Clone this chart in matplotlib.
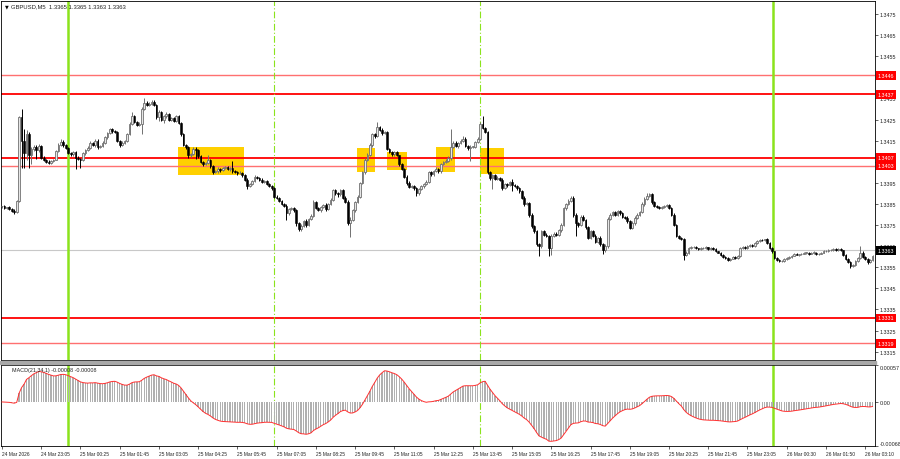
import numpy as np
import pandas as pd
import matplotlib
matplotlib.use("Agg")
import matplotlib.pyplot as plt
from matplotlib.patches import Rectangle
import matplotlib.transforms as mtransforms

plt.rcParams['font.family'] = ['Liberation Sans', 'DejaVu Sans']

# ------------------- DATA (M5 closes, points above 1.33000) ------------------- #
closes = [
    838, 832, 834, 826, 818, 812, 865, 1260, 1150, 1090, 1180, 1080, 1110, 1120, 1105, 1125, 1070, 1060, 1050, 1045,
    1055, 1060, 1100, 1130, 1145, 1130, 1115, 1090, 1085, 1095, 1070, 1065, 1060, 1090, 1105, 1115, 1140, 1130, 1150, 1120,
    1125, 1140, 1165, 1185, 1205, 1195, 1190, 1150, 1130, 1140, 1150, 1180, 1230, 1265, 1240, 1225, 1230, 1300, 1330, 1320,
    1325, 1335, 1320, 1260, 1285, 1250, 1265, 1275, 1250, 1255, 1245, 1265, 1235, 1180, 1130, 1118, 1080, 1085, 1110, 1105,
    1075, 1050, 1040, 1045, 1060, 1030, 1000, 1005, 1015, 1010, 1020, 1025, 1015, 1020, 1005, 1000, 995, 998, 985, 965,
    935, 945, 960, 980, 975, 965, 955, 960, 945, 935, 925, 885, 880, 865, 850, 840, 805, 825, 830, 820,
    760, 730, 745, 770, 750, 780, 795, 860, 830, 820, 835, 845, 825, 850, 870, 915, 900, 895, 915, 880,
    860, 760, 775, 820, 860, 885, 950, 1000, 1060, 1080, 1130, 1180, 1170, 1215, 1200, 1185, 1190, 1110, 1095, 1085,
    1095, 1080, 1040, 1015, 980, 950, 930, 935, 925, 900, 920, 935, 945, 955, 1000, 990, 1005, 1015, 1005, 1040,
    1050, 1055, 1070, 1120, 1140, 1125, 1140, 1150, 1160, 1125, 1115, 1120, 1120, 1145, 1160, 1230, 1210, 1190, 1000, 975,
    985, 970, 975, 965, 925, 945, 940, 955, 940, 935, 925, 910, 880, 850, 855, 800, 745, 720, 660, 650,
    720, 705, 700, 640, 700, 710, 705, 725, 750, 830, 850, 865, 880, 800, 760, 750, 790, 775, 740, 690,
    720, 700, 670, 690, 660, 630, 650, 780, 800, 810, 800, 815, 805, 790, 785, 770, 735, 760, 785, 800,
    810, 850, 875, 890, 895, 860, 840, 835, 830, 835, 840, 845, 830, 800, 750, 700, 690, 685, 610, 620,
    640, 645, 645, 640, 635, 640, 640, 645, 635, 640, 638, 625, 620, 610, 600, 595, 585, 590, 600, 595,
    605, 640, 645, 640, 650, 655, 650, 665, 675, 680, 678, 682, 665, 640, 625, 595, 585, 578, 580, 588,
    595, 600, 605, 615, 610, 612, 615, 618, 620, 615, 618, 620, 612, 615, 620, 625, 628, 630, 632, 635,
    630, 635, 630, 610, 590, 575, 555, 560, 580, 595, 620, 600, 590, 575, 585, 605,
]

# wick length above / below the body, points
upper_wick = [
    4, 6, 3, 5, 4, 6, 5, 5, 40, 55, 20, 10, 12, 8, 10, 8, 6, 5, 4, 6,
    5, 4, 6, 8, 15, 6, 5, 6, 4, 8, 6, 5, 4, 6, 5, 8, 6, 5, 10, 6,
    5, 6, 8, 6, 7, 5, 6, 4, 5, 6, 4, 8, 10, 20, 6, 5, 8, 10, 20, 8,
    6, 8, 6, 5, 8, 6, 5, 10, 6, 5, 6, 8, 6, 5, 8, 6, 5, 6, 8, 10,
    5, 6, 4, 6, 20, 5, 4, 6, 8, 5, 6, 4, 6, 5, 35, 4, 5, 6, 4, 5,
    6, 4, 5, 6, 4, 5, 6, 5, 4, 6, 5, 4, 6, 5, 4, 6, 8, 5, 6, 5,
    6, 5, 8, 6, 10, 5, 6, 8, 5, 6, 5, 6, 8, 5, 6, 8, 6, 5, 6, 5,
    6, 8, 15, 6, 5, 8, 6, 8, 6, 10, 8, 6, 8, 25, 6, 8, 5, 6, 5, 6,
    5, 6, 4, 5, 6, 5, 8, 6, 5, 6, 5, 6, 5, 8, 6, 5, 6, 8, 5, 6,
    5, 6, 8, 85, 6, 8, 5, 6, 10, 6, 5, 8, 6, 5, 8, 10, 37, 6, 5, 8,
    6, 5, 6, 5, 8, 6, 5, 6, 15, 6, 5, 6, 5, 8, 6, 5, 6, 5, 8, 6,
    6, 5, 6, 5, 8, 6, 5, 6, 8, 6, 5, 8, 10, 6, 5, 6, 8, 6, 5, 6,
    8, 5, 6, 5, 6, 5, 8, 10, 6, 5, 8, 6, 5, 6, 5, 6, 5, 8, 6, 5,
    6, 8, 10, 12, 6, 5, 6, 5, 6, 4, 5, 6, 5, 4, 5, 6, 4, 5, 4, 5,
    4, 5, 4, 5, 3, 4, 5, 4, 3, 4, 5, 4, 3, 4, 5, 4, 3, 4, 5, 4,
    5, 6, 4, 5, 4, 5, 4, 6, 5, 4, 5, 4, 5, 4, 5, 4, 3, 4, 5, 4,
    4, 5, 4, 5, 4, 3, 4, 5, 4, 3, 4, 5, 4, 3, 4, 5, 4, 5, 4, 5,
    4, 5, 4, 3, 4, 5, 4, 5, 4, 5, 30, 5, 4, 5, 4, 5,
]
lower_wick = [
    5, 4, 6, 5, 6, 8, 6, 5, 130, 70, 30, 60, 40, 8, 40, 10, 8, 6, 5, 6,
    6, 5, 4, 6, 5, 8, 6, 5, 6, 8, 55, 6, 40, 5, 6, 5, 4, 6, 8, 10,
    6, 5, 4, 6, 5, 8, 6, 5, 8, 6, 5, 6, 5, 6, 8, 6, 5, 50, 6, 5,
    6, 5, 8, 6, 15, 6, 15, 6, 5, 8, 6, 5, 8, 6, 5, 8, 10, 6, 5, 40,
    6, 5, 8, 6, 5, 8, 6, 5, 6, 8, 5, 6, 5, 8, 6, 5, 6, 5, 8, 6,
    15, 6, 5, 8, 6, 5, 6, 8, 5, 6, 8, 6, 5, 8, 6, 5, 30, 6, 5, 8,
    15, 10, 6, 5, 8, 6, 5, 8, 6, 5, 8, 6, 10, 5, 6, 8, 6, 10, 5, 8,
    6, 10, 65, 6, 8, 5, 6, 5, 8, 6, 5, 8, 6, 5, 6, 8, 5, 6, 5, 8,
    6, 5, 8, 6, 5, 8, 6, 5, 8, 10, 6, 5, 8, 6, 5, 6, 8, 5, 6, 8,
    6, 5, 8, 10, 6, 5, 8, 6, 5, 6, 8, 60, 6, 5, 6, 8, 6, 5, 8, 12,
    55, 6, 8, 6, 10, 6, 8, 5, 30, 6, 8, 6, 5, 8, 6, 10, 8, 6, 10, 45,
    8, 6, 5, 35, 30, 6, 5, 8, 6, 5, 8, 6, 5, 10, 60, 8, 6, 5, 8, 6,
    5, 8, 6, 5, 8, 15, 6, 8, 5, 6, 5, 8, 6, 5, 6, 8, 5, 6, 8, 5,
    6, 5, 8, 6, 5, 8, 6, 5, 6, 5, 4, 6, 5, 8, 6, 5, 4, 6, 25, 6,
    5, 4, 5, 4, 3, 4, 5, 3, 4, 5, 4, 3, 4, 5, 4, 6, 5, 4, 3, 4,
    4, 5, 4, 3, 4, 5, 4, 3, 4, 5, 4, 3, 6, 5, 6, 5, 4, 5, 4, 3,
    4, 5, 4, 3, 4, 5, 4, 3, 4, 5, 4, 3, 4, 5, 4, 3, 4, 5, 4, 3,
    4, 5, 4, 6, 5, 6, 8, 5, 6, 5, 6, 5, 6, 8, 5, 6,
]

time_labels = ["24 Mar 2026", "24 Mar 23:05", "25 Mar 00:25", "25 Mar 01:45", "25 Mar 03:05",
               "25 Mar 04:25", "25 Mar 05:45", "25 Mar 07:05", "25 Mar 08:25", "25 Mar 09:45",
               "25 Mar 11:05", "25 Mar 12:25", "25 Mar 13:45", "25 Mar 15:05", "25 Mar 16:25",
               "25 Mar 17:45", "25 Mar 19:05", "25 Mar 20:25", "25 Mar 21:45", "25 Mar 23:05",
               "26 Mar 00:30", "26 Mar 01:50", "26 Mar 03:10"]
label_bars = list(range(0, 353, 16))

# horizontal levels: (price, strong?)
levels = [(1.3446, False), (1.3437, True), (1.3407, True), (1.3403, False), (1.3331, True), (1.3319, False)]
current_price = 1.3363

# price scale labels (1.3445 sits under the 1.3446 level box)
scale_prices = [1.3475, 1.3465, 1.3455, 1.3435, 1.3425, 1.3415, 1.3405, 1.3395, 1.3385,
                1.3375, 1.3365, 1.3355, 1.3345, 1.3335, 1.3325, 1.3315]

# day / session separators (bar index)
separators = [27, 111, 195, 314.5]
separator_solid = [True, False, False, True]

# highlighted zones: (first bar, last bar, low, high)
zones = [(71.8, 98.7, 1.33988, 1.3412),
         (144.8, 152.1, 1.3400, 1.34116),
         (157.0, 165.2, 1.34011, 1.34097),
         (177.0, 184.7, 1.34002, 1.3412),
         (195.0, 204.7, 1.33993, 1.34116)]

# ------------------ BUILD OHLC ------------------- #
df = pd.DataFrame({'close': 1.33 + np.array(closes) / 1e5})
df['open'] = df['close'].shift(1).fillna(df['close'].iloc[0])
df['high'] = df[['open', 'close']].max(axis=1) + np.array(upper_wick) / 1e5
df['low'] = df[['open', 'close']].min(axis=1) - np.array(lower_wick) / 1e5
idx = np.arange(len(df))

# MACD(21,34,1)
ema_fast = df['close'].ewm(span=21, adjust=False).mean()
ema_slow = df['close'].ewm(span=34, adjust=False).mean()
df['macd'] = ema_fast - ema_slow
df['signal'] = df['macd'].rolling(1).mean()

# ------------------ LAYOUT ------------------- #
W, H = 900, 460
def px_rect(l, t, r, b):
    return [l / W, 1 - b / H, (r - l) / W, (b - t) / H]

fig = plt.figure(figsize=(9, 4.6), dpi=100)
ax1 = fig.add_axes(px_rect(1, 2, 875, 361))
ax2 = fig.add_axes(px_rect(1, 366, 875, 447))
fig.patches.append(Rectangle((0, 1 - 365 / H), 876 / W, 3 / H, transform=fig.transFigure,
                             color='#a8a8a8', zorder=0))

green = '#8be31c'
xlim = (-0.4, 356.0)

# ------------------ PRICE PANEL ------------------- #
for (x0, x1, lo, hi) in zones:
    ax1.add_patch(Rectangle((x0, lo), x1 - x0, hi - lo, color='#ffd000', zorder=1, lw=0))

for price, strong in levels:
    if strong:
        ax1.axhline(price, color='#ff0000', lw=1.3, zorder=2)
    else:
        ax1.axhline(price, color='#ff7070', lw=1.0, zorder=2)
ax1.axhline(current_price, color='#c8c8c8', lw=0.8, zorder=2)

for pos, solid in zip(separators, separator_solid):
    for ax in (ax1, ax2):
        if solid:
            ax.axvline(pos, color=green, lw=1.8, zorder=2)
        else:
            ax.axvline(pos, color=green, lw=0.8, ls=(0, (6, 2, 1, 2)), zorder=2)

bull = df['close'] >= df['open']
wick_col = np.where(bull, '#707070', '#000000')
ax1.vlines(idx, df['low'], df['high'], colors=wick_col, lw=0.7, zorder=3)
body = (df['close'] - df['open']).abs().clip(lower=0.000025)
bottoms = df[['open', 'close']].min(axis=1)
ax1.bar(idx[bull], body[bull], bottom=bottoms[bull], width=0.7,
        color='#e6e6e6', edgecolor='#707070', lw=0.6, zorder=4)
ax1.bar(idx[~bull], body[~bull], bottom=bottoms[~bull], width=0.7,
        color='black', edgecolor='black', lw=0.4, zorder=4)

ax1.set_xlim(*xlim)
ax1.set_ylim(1.331107, 1.348116)
ax1.set_xticks([])
ax1.yaxis.tick_right()
ax1.set_yticks(scale_prices)
ax1.set_yticklabels([f"{t:.4f}" for t in scale_prices])
ax1.tick_params(axis='y', length=2, width=0.5, pad=1.5, labelsize=3.9, colors='#222222')

# level labels on the price scale
trans = mtransforms.blended_transform_factory(ax1.transAxes, ax1.transData)
for price, strong in levels:
    ax1.text(1.003, price, f"{price:.4f}", transform=trans, fontsize=3.9, color='white',
             va='center', ha='left', zorder=10, clip_on=False,
             bbox=dict(boxstyle='square,pad=0.35', fc='#ff0000', ec='none'))
ax1.text(1.003, current_price, f"{current_price:.4f}", transform=trans, fontsize=3.9, color='white',
         va='center', ha='left', zorder=10, clip_on=False,
         bbox=dict(boxstyle='square,pad=0.35', fc='black', ec='none'))

for s in ax1.spines.values():
    s.set_linewidth(0.6)

fig.text(5 / W, 1 - 7 / H, "\u25bc", fontsize=3.5, va='center', ha='left', family='DejaVu Sans')
fig.text(11 / W, 1 - 7 / H, "GBPUSD,M5  1.3365 1.3365 1.3363 1.3363", fontsize=4.2,
         va='center', ha='left', color='#222222')

# ------------------ MACD PANEL ------------------- #
ax2.bar(idx, df['macd'], width=0.55, color='#b0b0b0', zorder=3)
ax2.plot(idx, df['signal'], color='#ff3030', lw=0.7, zorder=4)
ax2.set_xlim(*xlim)
ax2.set_ylim(-0.00068, 0.00057)
ax2.yaxis.tick_right()
ax2.set_yticks([0.00057, 0.0, -0.00068])
ax2.set_yticklabels(["0.00057", "0.00", "-0.00068"])
ylabels = ax2.get_yticklabels()
ylabels[0].set_va('top')
ylabels[2].set_va('bottom')
ax2.tick_params(axis='y', length=2, width=0.5, pad=1.5, labelsize=3.9, colors='#222222')
ax2.set_xticks(label_bars)
ax2.set_xticklabels(time_labels)
for lbl in ax2.get_xticklabels():
    lbl.set_ha('left')
ax2.tick_params(axis='x', length=2, width=0.5, pad=1.5, labelsize=3.5, colors='#222222')
ax2.text(4, 0.00050, "MACD(21,34,1) -0.00008 -0.00008", fontsize=3.9, va='center', ha='left',
         color='#222222', zorder=10)
for s in ax2.spines.values():
    s.set_linewidth(0.6)

fig.savefig("out.png", dpi=100)
